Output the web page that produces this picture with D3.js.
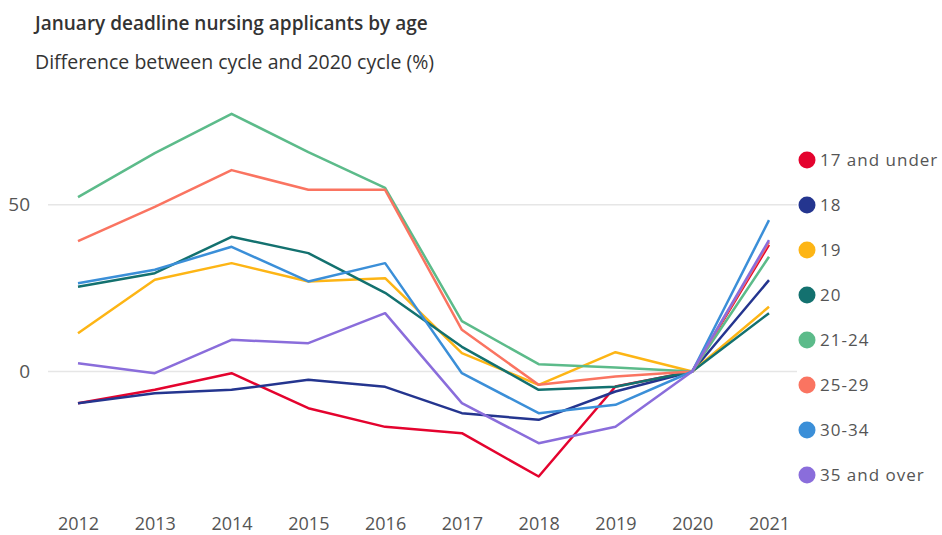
<!DOCTYPE html>
<html>
<head>
<meta charset="utf-8">
<script src="https://cdn.jsdelivr.net/npm/d3@7"></script>
<style>
  body { margin: 0; background: #fff; }
  svg { font-family: "Open Sans", "Noto Sans", sans-serif; }
</style>
</head>
<body>
<svg id="chart" width="942" height="535"></svg>
<script>
// cycles along the x axis
const years = [2012, 2013, 2014, 2015, 2016, 2017, 2018, 2019, 2020, 2021];

// one array per age group, % difference vs 2020 cycle
const under17 = [-9.5, -5.5, -0.5, -11, -16.6, -18.5, -31.5, -4.5, 0, 38];
const age18 = [-9.5, -6.5, -5.5, -2.5, -4.6, -12.5, -14.5, -6, 0, 27.4];
const age19 = [11.5, 27.5, 32.5, 27, 28, 5.5, -4, 5.8, 0, 19.4];
const age20 = [25.4, 29.5, 40.4, 35.5, 23.6, 7.4, -5.5, -4.6, 0, 17.5];
const age21to24 = [52.3, 65.5, 77.3, 65.8, 55.1, 15.1, 2.2, 1.2, 0, 34.4];
const age25to29 = [39.1, 49.4, 60.4, 54.5, 54.5, 12.5, -4, -1.5, 0, 38.8];
const age30to34 = [26.5, 30.5, 37.4, 27, 32.5, -0.5, -12.5, -10, 0, 45.4];
const over35 = [2.5, -0.5, 9.5, 8.5, 17.5, -9.5, -21.5, -16.6, 0, 39.4];

const seriesNames = ["17 and under", "18", "19", "20", "21-24", "25-29", "30-34", "35 and over"];
const seriesValues = [under17, age18, age19, age20, age21to24, age25to29, age30to34, over35];
const seriesColors = ["#e4032e", "#24358f", "#fdb515", "#13716f", "#5cbb8a", "#fa7461", "#3b8fd8", "#8a6ddb"];

const yTicks = [0, 50];

const svg = d3.select('#chart');

// x / y scales
const x = d3.scalePoint()
    .domain(years)
    .range([78, 769]);

const y = d3.scaleLinear()
    .domain([0, 50])
    .range([371.5, 204.8]);

// title + subtitle
svg.append('text')
    .attr('x', 35).attr('y', 30)
    .style('font-size', '19px')
    .style('font-weight', '600')
    .style('fill', '#333')
    .text('January deadline nursing applicants  by age');

svg.append('text')
    .attr('x', 35).attr('y', 69)
    .style('font-size', '19.5px')
    .style('fill', '#333')
    .text('Difference between cycle and 2020 cycle (%)');

// gridlines
svg.append('g')
    .selectAll('line')
    .data(yTicks)
    .enter()
    .append('line')
    .attr('x1', 48).attr('x2', 797)
    .attr('y1', d => y(d)).attr('y2', d => y(d))
    .style('stroke', '#e6e6e6')
    .style('stroke-width', 1.5);

// y labels
svg.append('g')
    .selectAll('text')
    .data(yTicks)
    .enter()
    .append('text')
    .attr('x', 30)
    .attr('y', d => y(d))
    .attr('dy', '0.35em')
    .attr('text-anchor', 'end')
    .style('font-size', '19px')
    .style('fill', '#555')
    .text(d => d);

// x axis labels
const xAxis = d3.axisBottom(x).tickSize(0).tickPadding(0);
const xg = svg.append('g')
    .attr('transform', 'translate(0, 517)')
    .call(xAxis);
xg.select('.domain').remove();
xg.selectAll('text')
    .style('font-size', '18px')
    .style('font-family', '"Open Sans", "Noto Sans", sans-serif')
    .style('fill', '#555');

// lines
const line = d3.line()
    .x((d, i) => x(years[i]))
    .y(d => y(d));

svg.append('g')
    .selectAll('path')
    .data(seriesValues)
    .enter()
    .append('path')
    .attr('d', d => line(d))
    .style('fill', 'none')
    .style('stroke', (d, i) => seriesColors[i])
    .style('stroke-width', 2.5)
    .style('stroke-linejoin', 'round');

// legend
const legend = svg.append('g')
    .selectAll('g')
    .data(seriesNames)
    .enter()
    .append('g')
    .attr('transform', (d, i) => `translate(807, ${160 + i * 45})`);

legend.append('circle')
    .attr('r', 8.5)
    .style('fill', (d, i) => seriesColors[i]);

legend.append('text')
    .attr('x', 13)
    .attr('dy', '0.35em')
    .style('font-size', '17px')
    .style('letter-spacing', '1px')
    .style('fill', '#555')
    .text(d => d);
</script>
</body>
</html>
